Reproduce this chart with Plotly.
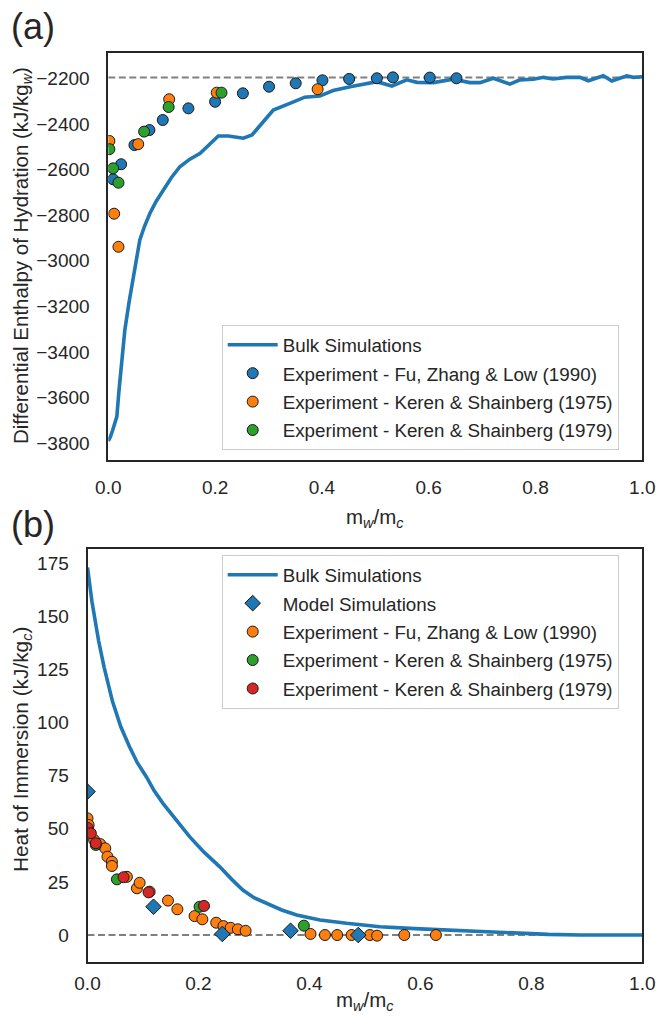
import plotly.graph_objects as go

# ---------------- panel (a): differential enthalpy of hydration ----------------
bulk_a_x = [0.0, 0.004, 0.008, 0.012, 0.016, 0.020, 0.025, 0.031, 0.039, 0.047, 0.053,
            0.059, 0.068, 0.078, 0.090, 0.103, 0.118, 0.134, 0.152, 0.172, 0.190, 0.206,
            0.225, 0.253, 0.269, 0.289, 0.309, 0.340, 0.368, 0.396, 0.421, 0.453, 0.484,
            0.503, 0.531, 0.559, 0.578, 0.609, 0.646, 0.677, 0.696, 0.721, 0.752, 0.771,
            0.796, 0.815, 0.833, 0.858, 0.883, 0.899, 0.927, 0.943, 0.971, 0.983, 1.0]
bulk_a_y = [-3790, -3772, -3745, -3715, -3684, -3570, -3430, -3304, -3180, -3075, -2990,
            -2909, -2848, -2792, -2738, -2690, -2636, -2588, -2556, -2529, -2490, -2453,
            -2453, -2463, -2449, -2392, -2339, -2310, -2283, -2278, -2254, -2237, -2222,
            -2215, -2234, -2207, -2218, -2219, -2204, -2219, -2219, -2200, -2226, -2207,
            -2204, -2196, -2203, -2196, -2196, -2211, -2189, -2212, -2189, -2196, -2193]

fu_a_x = [0.009, 0.024, 0.049, 0.077, 0.102, 0.150, 0.200, 0.252, 0.301, 0.351, 0.401,
          0.451, 0.503, 0.533, 0.602, 0.652]
fu_a_y = [-2643, -2577, -2493, -2427, -2383, -2332, -2303, -2266, -2237, -2222, -2209,
          -2203, -2200, -2196, -2197, -2200]

ks75_a_x = [0.002, 0.011, 0.019, 0.056, 0.114, 0.203, 0.392]
ks75_a_y = [-2475, -2794, -2939, -2489, -2292, -2263, -2248]

ks79_a_x = [0.002, 0.009, 0.019, 0.067, 0.113, 0.212]
ks79_a_y = [-2511, -2595, -2658, -2434, -2326, -2263]

bulk_water_enthalpy = -2197

# ---------------- panel (b): heat of immersion ----------------
bulk_b_x = [0.0, 0.008, 0.020, 0.030, 0.045, 0.060, 0.0755, 0.090, 0.106, 0.120, 0.136,
            0.160, 0.184, 0.210, 0.238, 0.260, 0.280, 0.300, 0.322, 0.350, 0.377, 0.419,
            0.467, 0.527, 0.590, 0.648, 0.700, 0.768, 0.830, 0.888, 0.950, 1.0]
bulk_b_y = [173.0, 157.0, 138.5, 126.0, 110.0, 98.0, 88.7, 81.0, 74.5, 68.0, 62.0,
            54.0, 46.3, 39.0, 32.2, 26.2, 21.2, 17.6, 14.9, 11.8, 9.4, 7.1,
            5.5, 3.9, 3.0, 2.4, 1.6, 0.8, 0.3, 0.0, -0.1, 0.0]

model_b_x = [0.0, 0.119, 0.243, 0.366, 0.488]
model_b_y = [67.5, 13.3, 0.5, 2.0, 0.0]

fu_b_x = [0.0, 0.002, 0.012, 0.023, 0.032, 0.036, 0.044, 0.044, 0.071, 0.089, 0.094,
          0.112, 0.145, 0.162, 0.193, 0.207, 0.232, 0.245, 0.258, 0.271, 0.285, 0.402,
          0.428, 0.450, 0.476, 0.509, 0.522, 0.571, 0.628]
fu_b_y = [54.9, 51.8, 44.7, 42.8, 40.8, 36.9, 34.5, 32.5, 27.4, 22.0, 24.6,
          20.4, 16.2, 12.1, 8.9, 7.4, 5.8, 4.2, 3.4, 2.7, 2.0, 0.5,
          0.0, 0.0, 0.0, 0.0, -0.3, 0.0, 0.0]

ks75_b_x = [0.015, 0.053, 0.202, 0.390]
ks75_b_y = [42.4, 26.2, 13.3, 4.4]

ks79_b_x = [0.0, 0.006, 0.015, 0.065, 0.110, 0.210]
ks79_b_y = [50.5, 47.9, 43.2, 27.2, 20.1, 13.7]

x_ticks = [0.0, 0.2, 0.4, 0.6, 0.8, 1.0]
ya_ticks = [-3800, -3600, -3400, -3200, -3000, -2800, -2600, -2400, -2200]
yb_ticks = [0, 25, 50, 75, 100, 125, 150, 175]

# ---------------- styling ----------------
W, H = 657, 1019
FONT = "Liberation Sans, Arial, sans-serif"
TXT = "#262626"
BLUE, ORANGE, GREEN, RED = "#1f77b4", "#ff7f0e", "#2ca02c", "#d62728"
LABEL_FU = "Experiment - Fu, Zhang & Low (1990)"
LABEL_K75 = "Experiment - Keren & Shainberg (1975)"
LABEL_K79 = "Experiment - Keren & Shainberg (1979)"


def px_x(p):
    return p / W


def px_y(p):
    return 1 - p / H


fig = go.Figure()


def dots(x, y, color, name, xa, ya, legend, rank, symbol="circle", size=11):
    fig.add_trace(go.Scatter(
        x=x, y=y, mode="markers", name=name, xaxis=xa, yaxis=ya,
        legend=legend, legendgroup=legend + name, legendrank=rank,
        marker=dict(color=color, size=size, symbol=symbol,
                    line=dict(color="#1a1a1a", width=1)),
    ))


def bulk(x, y, xa, ya, legend):
    fig.add_trace(go.Scatter(
        x=x, y=y, mode="lines", name="Bulk Simulations", xaxis=xa, yaxis=ya,
        legend=legend, legendgroup=legend + "bulk", legendrank=1,
        line=dict(color=BLUE, width=3.6),
    ))


def ref_line(level, xa, ya):
    fig.add_trace(go.Scatter(
        x=[0, 1], y=[level, level], mode="lines", xaxis=xa, yaxis=ya,
        showlegend=False, hoverinfo="skip",
        line=dict(color="#808080", width=2, dash="7px,3.5px"),
    ))


# panel (a)
ref_line(bulk_water_enthalpy, "x", "y")
bulk(bulk_a_x, bulk_a_y, "x", "y", "legend")
dots(fu_a_x, fu_a_y, BLUE, LABEL_FU, "x", "y", "legend", 2)
dots(ks75_a_x, ks75_a_y, ORANGE, LABEL_K75, "x", "y", "legend", 3)
dots(ks79_a_x, ks79_a_y, GREEN, LABEL_K79, "x", "y", "legend", 4)

# panel (b)
ref_line(0, "x2", "y2")
bulk(bulk_b_x, bulk_b_y, "x2", "y2", "legend2")
dots(fu_b_x, fu_b_y, ORANGE, LABEL_FU, "x2", "y2", "legend2", 3)
dots(ks75_b_x, ks75_b_y, GREEN, LABEL_K75, "x2", "y2", "legend2", 4)
dots(ks79_b_x, ks79_b_y, RED, LABEL_K79, "x2", "y2", "legend2", 5)
dots(model_b_x, model_b_y, BLUE, "Model Simulations", "x2", "y2", "legend2", 2,
     symbol="diamond", size=12)


def axis_style(ticklen):
    return dict(
        showgrid=False, zeroline=False, showline=True, mirror=True, automargin=False,
        linecolor=TXT, linewidth=1.8, ticks="outside", ticklen=ticklen,
        tickcolor="rgba(0,0,0,0)", tickfont=dict(family=FONT, size=19, color=TXT),
    )


legend_common = dict(
    xanchor="left", bgcolor="rgba(255,255,255,0.85)", bordercolor="#cccccc",
    borderwidth=1, font=dict(family=FONT, size=18.8, color=TXT),
    tracegroupgap=1, itemwidth=50,
)

fig.update_layout(
    width=W, height=H, margin=dict(l=0, r=0, t=0, b=0, autoexpand=False),
    paper_bgcolor="white", plot_bgcolor="white",
    font=dict(family=FONT, color=TXT),
    xaxis=dict(domain=[px_x(108.3), px_x(642.3)], range=[0, 1], anchor="y",
               tickvals=x_ticks, tickformat=".1f", **axis_style(10)),
    yaxis=dict(domain=[px_y(459.5), px_y(52.5)], range=[-3872, -2087], anchor="x",
               tickvals=ya_ticks, **axis_style(13)),
    xaxis2=dict(domain=[px_x(87.5), px_x(642.3)], range=[0, 1], anchor="y2",
                tickvals=x_ticks, tickformat=".1f", **axis_style(3)),
    yaxis2=dict(domain=[px_y(962), px_y(549)], range=[-12.7, 181.7], anchor="x2",
                tickvals=yb_ticks, **axis_style(13)),
    legend=dict(x=px_x(221.7), y=px_y(450), yanchor="bottom", **legend_common),
    legend2=dict(x=px_x(221.7), y=px_y(555), yanchor="top", **legend_common),
    showlegend=True,
)

annotations = [
    ("(a)", 33, 27, 0, 36),
    ("(b)", 33, 524, 0, 36),
    ("Differential Enthalpy of Hydration (kJ/kg<sub><i>w</i></sub>)", 22, 256, -90, 20.5),
    ("m<sub><i>w</i></sub>/m<sub><i>c</i></sub>", 375, 518, 0, 20.5),
    ("Heat of Immersion (kJ/kg<sub><i>c</i></sub>)", 22, 750, -90, 20.8),
    ("m<sub><i>w</i></sub>/m<sub><i>c</i></sub>", 365, 1001, 0, 20.5),
]
for text, ax, ay, angle, size in annotations:
    fig.add_annotation(
        text=text, xref="paper", yref="paper", x=px_x(ax), y=px_y(ay),
        xanchor="center", yanchor="middle", showarrow=False, textangle=angle,
        font=dict(family=FONT, size=size, color=TXT),
    )

fig.write_html("out.html")
